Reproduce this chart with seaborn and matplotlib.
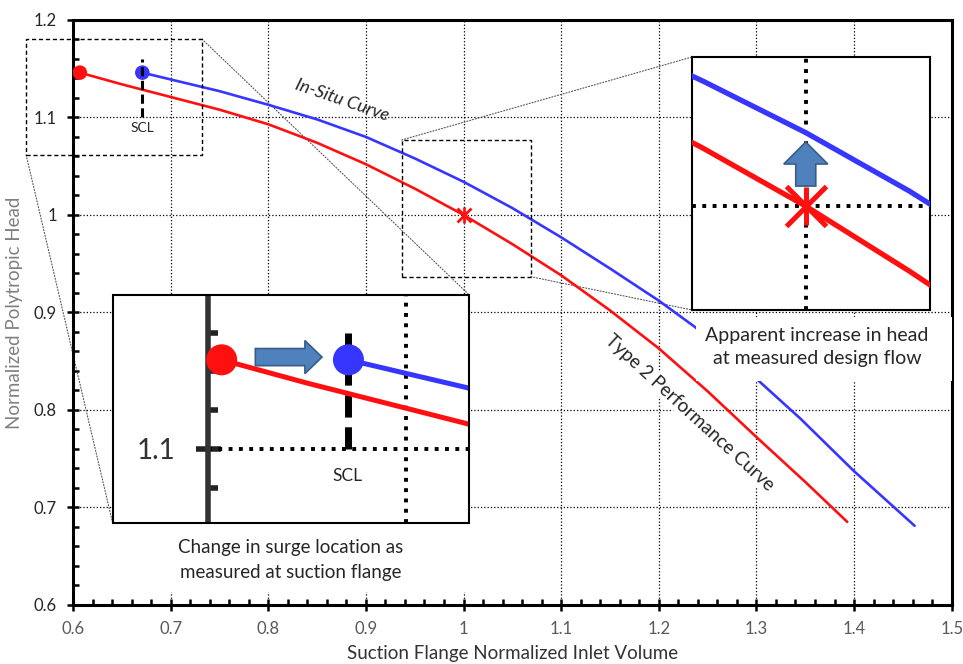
import numpy as np
import pandas as pd
import matplotlib
matplotlib.use("Agg")
import matplotlib.pyplot as plt
import seaborn as sns
from matplotlib.ticker import MultipleLocator, FuncFormatter
from matplotlib.patches import Rectangle, FancyArrow, ConnectionPatch

# curves
type2_x = [0.607, 0.65, 0.70, 0.75, 0.80, 0.85, 0.90, 0.95, 1.00, 1.05, 1.10, 1.15, 1.20, 1.25, 1.30, 1.35, 1.393]
type2_y = [1.146, 1.134, 1.121, 1.108, 1.093, 1.074, 1.052, 1.027, 1.000, 0.970, 0.938, 0.902, 0.863, 0.819, 0.772, 0.726, 0.685]
insitu_x = [0.671, 0.70, 0.75, 0.80, 0.85, 0.90, 0.95, 1.00, 1.05, 1.10, 1.15, 1.20, 1.237, 1.302, 1.345, 1.40, 1.462]
insitu_y = [1.146, 1.139, 1.127, 1.113, 1.098, 1.080, 1.058, 1.034, 1.007, 0.977, 0.945, 0.912, 0.885, 0.830, 0.791, 0.737, 0.681]

surge_x = [0.607, 0.671]          # type 2 surge, in-situ surge
surge_y = [1.146, 1.146]
design_x = [1.0]
design_y = [1.0]
scl_x = 0.671
scl_y = [1.10, 1.16]

x_ticks = [0.6, 0.7, 0.8, 0.9, 1.0, 1.1, 1.2, 1.3, 1.4, 1.5]
y_ticks = [0.6, 0.7, 0.8, 0.9, 1.0, 1.1, 1.2]

zoom1_xlim = [0.552, 0.732]
zoom1_ylim = [1.0615, 1.1795]
zoom2_xlim = [0.945, 1.06]
zoom2_ylim = [0.952, 1.069]
zoom2_box_x = [0.9367, 1.0689]
zoom2_box_y = [0.9366, 1.0769]

RED = "#ff1010"
BLUE = "#3636ff"
ARROW_FC = "#4f81bd"
ARROW_EC = "#385d8a"

sns.set_style("white")
plt.rcParams["font.family"] = ["Lato", "DejaVu Sans"]

df_t2 = pd.DataFrame({"x": type2_x, "y": type2_y})
df_is = pd.DataFrame({"x": insitu_x, "y": insitu_y})

fig = plt.figure(figsize=(9.63, 6.64), dpi=100)
ax = fig.add_axes([73 / 963, 1 - 604.7 / 664, 878.7 / 963, 584.7 / 664])

sns.lineplot(data=df_t2, x="x", y="y", ax=ax, color=RED, lw=1.9, sort=False, estimator=None, zorder=4)
sns.lineplot(data=df_is, x="x", y="y", ax=ax, color=BLUE, lw=1.9, sort=False, estimator=None, zorder=4)
sns.scatterplot(x=surge_x[:1], y=surge_y[:1], ax=ax, color=RED, s=110, edgecolor="none", zorder=5)
sns.scatterplot(x=surge_x[1:], y=surge_y[1:], ax=ax, color=BLUE, s=110, edgecolor="none", zorder=5)
ax.plot(design_x, design_y, marker="x", ms=9.5, mew=2, color=RED, ls="none", zorder=5)
ax.plot(design_x, design_y, marker="|", ms=12, mew=2, color=RED, ls="none", zorder=5)
ax.plot([scl_x, scl_x], scl_y, color="black", lw=2.2, ls=(0, (3, 1.5)), zorder=5)
ax.text(scl_x, 1.089, "SCL", fontsize=10, ha="center", va="center", zorder=6)

ax.set_xlim(x_ticks[0], x_ticks[-1])
ax.set_ylim(y_ticks[0], y_ticks[-1])
ax.xaxis.set_major_locator(MultipleLocator(0.1))
ax.xaxis.set_minor_locator(MultipleLocator(0.02))
ax.yaxis.set_major_locator(MultipleLocator(0.1))
ax.yaxis.set_minor_locator(MultipleLocator(0.02))
fmt = FuncFormatter(lambda v, p: f"{v:g}")
ax.xaxis.set_major_formatter(fmt)
ax.yaxis.set_major_formatter(fmt)
ax.tick_params(which="both", bottom=True, left=True, top=False, right=False)
ax.tick_params(which="major", direction="inout", length=9, width=1.8, color="black", labelsize=12)
ax.tick_params(which="minor", direction="in", length=4.5, width=1.8, color="black")
ax.tick_params(axis="x", which="major", pad=7, labelcolor="#595959")
ax.tick_params(axis="y", which="major", pad=7, labelcolor="#262626")
for s in ax.spines.values():
    s.set_linewidth(2.2)
    s.set_color("black")
ax.grid(which="major", ls=":", lw=0.9, color="black")
ax.set_axisbelow(True)
ax.set_xlabel("Suction Flange Normalized Inlet Volume", fontsize=13.5, color="#333333", labelpad=6)
ax.set_ylabel("Normalized Polytropic Head", fontsize=13.5, color="#808080", labelpad=8)

# curve labels
ax.text(0.876, 1.118, "In-Situ Curve", rotation=-19, style="italic", fontsize=13,
        ha="center", va="center", zorder=6)
ax.text(1.232, 0.797, "Type 2 Performance Curve", rotation=-42.5, fontsize=13.5,
        ha="center", va="center", rotation_mode="anchor", zorder=6,
        bbox=dict(fc="white", ec="none", pad=1))

# white panels under the captions
ax.add_patch(Rectangle((0.641, 0.613), 0.366, 0.071, fc="white", ec="none", zorder=3))
ax.add_patch(Rectangle((1.238, 0.830), 0.262, 0.065, fc="white", ec="none", zorder=5))
ax.text(0.823, 0.6459, "Change in surge location as\nmeasured at suction flange", fontsize=13.5,
        ha="center", va="center", linespacing=1.55, zorder=6)
ax.text(1.362, 0.8644, "Apparent increase in head\nat measured design flow", fontsize=14,
        ha="center", va="center", linespacing=1.45, zorder=6)

# dashed outlines of zoomed regions
ax.add_patch(Rectangle((zoom1_xlim[0], 1.0615), zoom1_xlim[1] - zoom1_xlim[0], 0.119,
                       fill=False, ec="black", lw=1, ls=(0, (3, 2)), clip_on=False, zorder=6))
ax.add_patch(Rectangle((zoom2_box_x[0], zoom2_box_y[0]), zoom2_box_x[1] - zoom2_box_x[0],
                       zoom2_box_y[1] - zoom2_box_y[0],
                       fill=False, ec="black", lw=1, ls=(0, (3, 2)), clip_on=False, zorder=6))

# inset 1: surge location
ax1 = fig.add_axes([112.7 / 963, 1 - 523.3 / 664, 356.6 / 963, 228.3 / 664])
ax1.set_facecolor("white")
sns.lineplot(data=df_t2, x="x", y="y", ax=ax1, color=RED, lw=3.6, sort=False, estimator=None, zorder=4)
sns.lineplot(data=df_is, x="x", y="y", ax=ax1, color=BLUE, lw=3.6, sort=False, estimator=None, zorder=4)
sns.scatterplot(x=surge_x[:1], y=surge_y[:1], ax=ax1, color=RED, s=500, edgecolor="none", zorder=5)
sns.scatterplot(x=surge_x[1:], y=surge_y[1:], ax=ax1, color=BLUE, s=500, edgecolor="none", zorder=5)
ax1.plot([scl_x, scl_x], scl_y, color="black", lw=5, ls=(0, (3.2, 1.4)), zorder=3)
ax1.hlines(1.1, 0.6, zoom1_xlim[1], color="black", lw=2.8, ls=":", zorder=2)
ax1.axvline(0.7, color="black", lw=2.8, ls=":", zorder=2)
ax1.text(0.6705, 1.0857, "SCL", fontsize=12.5, ha="center", va="center")
ax1.add_patch(FancyArrow(0.40, 0.728, 0.187, 0, width=0.075, head_width=0.145, head_length=0.048,
                         length_includes_head=True, transform=ax1.transAxes,
                         fc=ARROW_FC, ec=ARROW_EC, lw=1.2, zorder=6))
ax1.set_xlim(zoom1_xlim)
ax1.set_ylim(zoom1_ylim)
for name in ["top", "right", "bottom"]:
    ax1.spines[name].set_visible(False)
ax1.spines["left"].set_position(("data", 0.6))
ax1.spines["left"].set_linewidth(4)
ax1.spines["left"].set_color("#333333")
ax1.spines["left"].set_capstyle("butt")
ax1.yaxis.set_major_locator(MultipleLocator(0.1))
ax1.yaxis.set_minor_locator(MultipleLocator(0.02))
ax1.yaxis.set_major_formatter(fmt)
ax1.tick_params(axis="y", which="both", left=True, right=False)
ax1.tick_params(axis="y", which="major", direction="inout", length=18, width=4, color="#222222",
                labelsize=20, labelcolor="#333333", pad=14)
ax1.tick_params(axis="y", which="minor", direction="in", length=7, width=4, color="#222222")
ax1.set_xticks([])
ax1.set_xlabel("")
ax1.set_ylabel("")
ax1.add_patch(Rectangle((0, 0), 1, 1, transform=ax1.transAxes, fill=False, ec="black", lw=1.5,
                        clip_on=False, zorder=7))

# inset 2: design flow
ax2 = fig.add_axes([692 / 963, 1 - 310 / 664, 238 / 963, 253 / 664])
ax2.set_facecolor("white")
sns.lineplot(data=df_t2, x="x", y="y", ax=ax2, color=RED, lw=3.8, sort=False, estimator=None, zorder=4)
sns.lineplot(data=df_is, x="x", y="y", ax=ax2, color=BLUE, lw=3.8, sort=False, estimator=None, zorder=4)
ax2.plot(design_x, design_y, marker="x", ms=29, mew=3.6, color=RED, ls="none", zorder=5)
ax2.plot(design_x, design_y, marker="|", ms=28, mew=3.6, color=RED, ls="none", zorder=5)
ax2.axhline(1.0, color="black", lw=2.8, ls=":", zorder=3)
ax2.axvline(1.0, color="black", lw=2.8, ls=":", zorder=3)
ax2.add_patch(FancyArrow(0.478, 0.49, 0, 0.174, width=0.084, head_width=0.185, head_length=0.087,
                         length_includes_head=True, transform=ax2.transAxes,
                         fc=ARROW_FC, ec=ARROW_EC, lw=1.2, zorder=6))
ax2.set_xlim(zoom2_xlim)
ax2.set_ylim(zoom2_ylim)
ax2.set_xticks([])
ax2.set_yticks([])
ax2.set_xlabel("")
ax2.set_ylabel("")
for s in ax2.spines.values():
    s.set_linewidth(1.5)
    s.set_color("black")

# connector lines
con_kw = dict(ls=":", lw=0.8, color="#555555", zorder=1)
for xyA, xyB, axB in [((zoom1_xlim[1], 1.1805), (1, 1), ax1),
                      ((zoom1_xlim[0], 1.0615), (0, 0), ax1),
                      ((zoom2_box_x[0], zoom2_box_y[1]), (0, 1), ax2),
                      ((zoom2_box_x[1], zoom2_box_y[0]), (0, 0), ax2)]:
    con = ConnectionPatch(xyA=xyA, coordsA=ax.transData, xyB=xyB, coordsB=axB.transAxes, **con_kw)
    ax.add_artist(con)

fig.savefig("out.png", dpi=100)
